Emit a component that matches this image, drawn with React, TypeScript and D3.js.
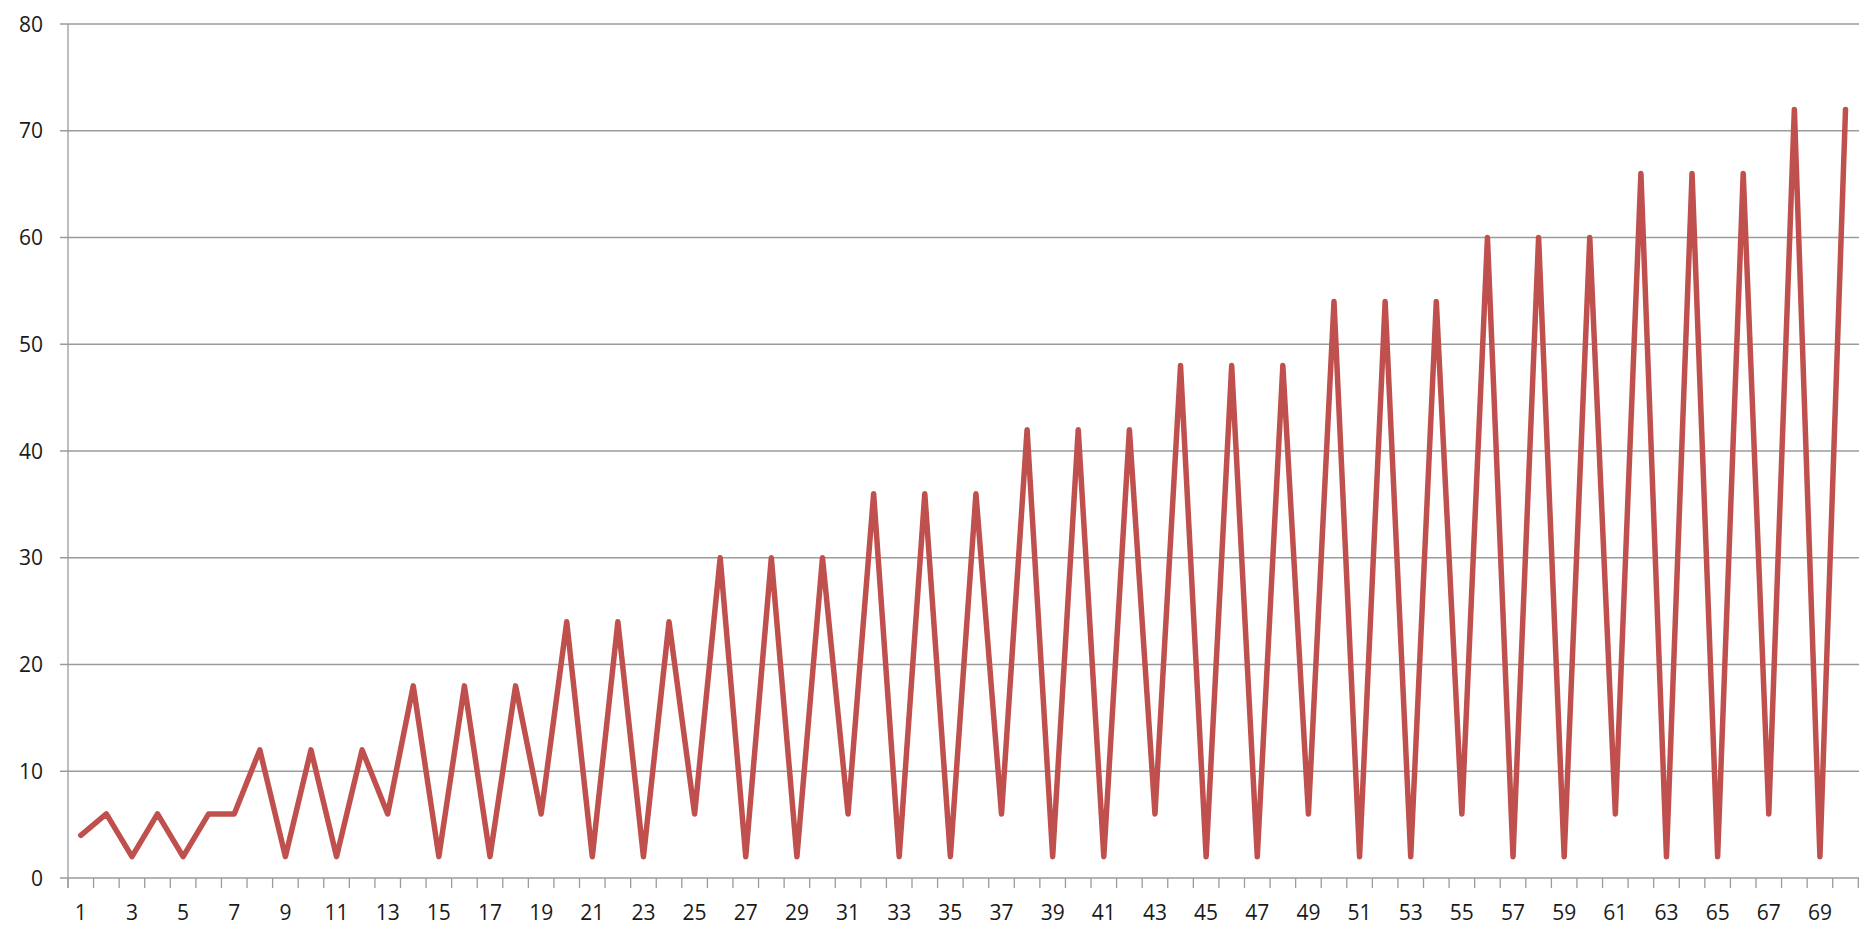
import React from "react";
import * as d3 from "d3";

const categories: string[] = [
  "1","2","3","4","5","6","7","8","9","10",
  "11","12","13","14","15","16","17","18","19","20",
  "21","22","23","24","25","26","27","28","29","30",
  "31","32","33","34","35","36","37","38","39","40",
  "41","42","43","44","45","46","47","48","49","50",
  "51","52","53","54","55","56","57","58","59","60",
  "61","62","63","64","65","66","67","68","69","70",
];

const values: number[] = [
  4, 6, 2, 6, 2, 6, 6, 12, 2, 12,
  2, 12, 6, 18, 2, 18, 2, 18, 6, 24,
  2, 24, 2, 24, 6, 30, 2, 30, 2, 30,
  6, 36, 2, 36, 2, 36, 6, 42, 2, 42,
  2, 42, 6, 48, 2, 48, 2, 48, 6, 54,
  2, 54, 2, 54, 6, 60, 2, 60, 2, 60,
  6, 66, 2, 66, 2, 66, 6, 72, 2, 72,
];

const yTicks: number[] = [0, 10, 20, 30, 40, 50, 60, 70, 80];

const W = 1859;
const H = 926;
const left = 68;
const right = 1858.3;
const top = 24;
const bottom = 878;

export default function App() {
  const x = d3.scaleBand<string>().domain(categories).range([left, right]).paddingInner(0).paddingOuter(0);
  const y = d3.scaleLinear().domain([0, 80]).range([bottom, top]);
  const line = d3
    .line<number>()
    .x((_, i) => (x(categories[i]) as number) + x.bandwidth() / 2)
    .y((d) => y(d));

  const font = "'Open Sans', Lato, 'DejaVu Sans', sans-serif";
  const gridColor = "#9b9b9b";
  const boundaries = categories.map((c) => x(c) as number).concat([right]);

  return (
    <svg
      width={W}
      height={H}
      style={{ position: "fixed", left: 0, top: 0, background: "#fff" }}
    >
      <rect x={0} y={0} width={W} height={H} fill="#fff" />
      {yTicks.map((t) => (
        <g key={t}>
          <line x1={left - 8} x2={W} y1={y(t)} y2={y(t)} stroke={gridColor} strokeWidth={1.3} />
          <text
            x={43}
            y={y(t)}
            dy="0.36em"
            textAnchor="end"
            fontFamily={font}
            fontSize={21}
            fill="#1a1a1a"
          >
            {t}
          </text>
        </g>
      ))}
      <line x1={left} x2={left} y1={top} y2={bottom + 10} stroke={gridColor} strokeWidth={1.3} />
      {boundaries.map((b, i) => (
        <line key={i} x1={b} x2={b} y1={bottom} y2={bottom + 10} stroke={gridColor} strokeWidth={1.3} />
      ))}
      {categories.map((c, i) =>
        i % 2 === 0 ? (
          <text
            key={c}
            x={(x(c) as number) + x.bandwidth() / 2}
            y={912}
            dy="0.36em"
            textAnchor="middle"
            fontFamily={font}
            fontSize={21}
            fill="#1a1a1a"
          >
            {c}
          </text>
        ) : null
      )}
      <path
        d={line(values) || ""}
        fill="none"
        stroke="#C0504D"
        strokeWidth={5.5}
        strokeLinejoin="round"
        strokeLinecap="round"
      />
    </svg>
  );
}
